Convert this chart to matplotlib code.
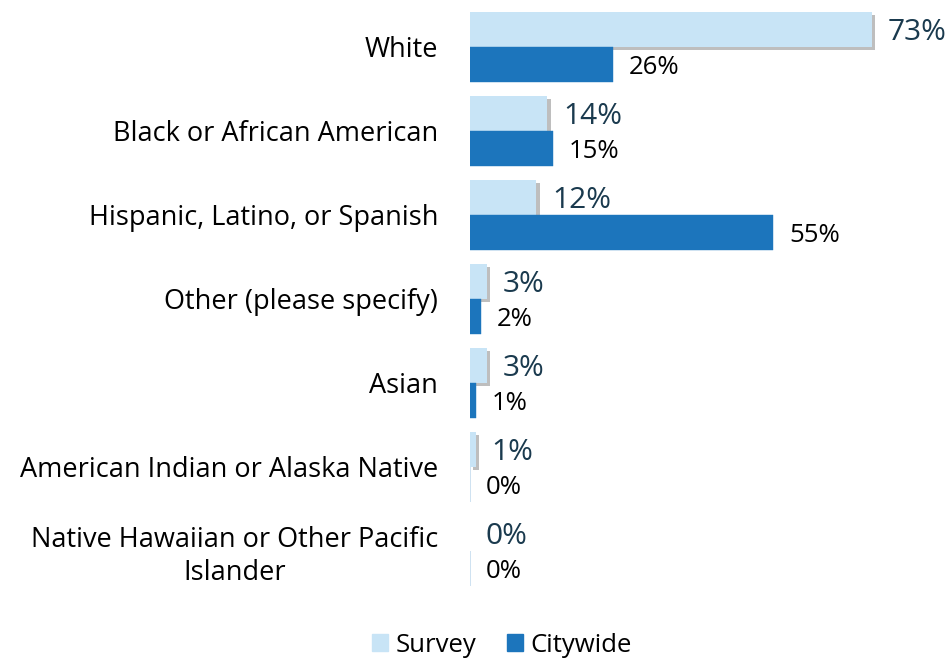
import matplotlib
matplotlib.use('Agg')
import matplotlib.pyplot as plt
import matplotlib.patheffects as pe
from matplotlib.patches import Patch
import numpy as np

plt.rcParams['font.family'] = ['Open Sans', 'DejaVu Sans']

categories = ['White', 'Black or African American', 'Hispanic, Latino, or Spanish',
              'Other (please specify)', 'Asian', 'American Indian or Alaska Native',
              'Native Hawaiian or Other Pacific\nIslander']
survey = [73, 14, 12, 3, 3, 1, 0]
citywide = [26, 15, 55, 2, 1, 0, 0]

c_survey = '#C8E4F6'
c_city = '#1C75BC'

fig = plt.figure(figsize=(9.52, 6.6), dpi=100)
ax = fig.add_axes([470/952, 60/660, 482/952, 600/660])

y = np.arange(len(categories))
h = 0.417
shadow = [pe.SimplePatchShadow(offset=(2.5, -2.5), shadow_rgbFace='#8a8a8a', alpha=0.55), pe.Normal()]
ax.barh(y - h/2, survey, height=h, color=c_survey, path_effects=shadow, zorder=2)
ax.barh(y + h/2, citywide, height=h, color=c_city, edgecolor=c_city, linewidth=0.3, zorder=3)

# value labels
for yi, v in zip(y, survey):
    ax.text(v + 2.9, yi - h/2 + 0.03, f'{v}%', va='center', ha='left', fontsize=21.5, color='#1A3A4E')
for yi, v in zip(y, citywide):
    ax.text(v + 2.9, yi + h/2 + 0.04, f'{v}%', va='center', ha='left', fontsize=18.5, color='black')

ax.set_xlim(0, 482/5.507)
ax.set_ylim(-0.5595 + 600/84, -0.5595)
ax.set_yticks(y)
ax.set_yticklabels(categories, fontsize=19.5)
for t in ax.get_yticklabels():
    t.set_multialignment('center')
ax.tick_params(axis='y', length=0, pad=23)
ax.set_xticks([])
for s in ax.spines.values():
    s.set_visible(False)

handles = [Patch(color=c_survey), Patch(color=c_city)]
fig.legend(handles=handles, labels=['Survey', 'Citywide'], loc='center', ncol=2,
           bbox_to_anchor=(502/952, 1 - 645/660), frameon=False, fontsize=18.5,
           handlelength=0.6, handleheight=0.6, handletextpad=0.3, columnspacing=1.2)

fig.savefig('out.png', dpi=100)
